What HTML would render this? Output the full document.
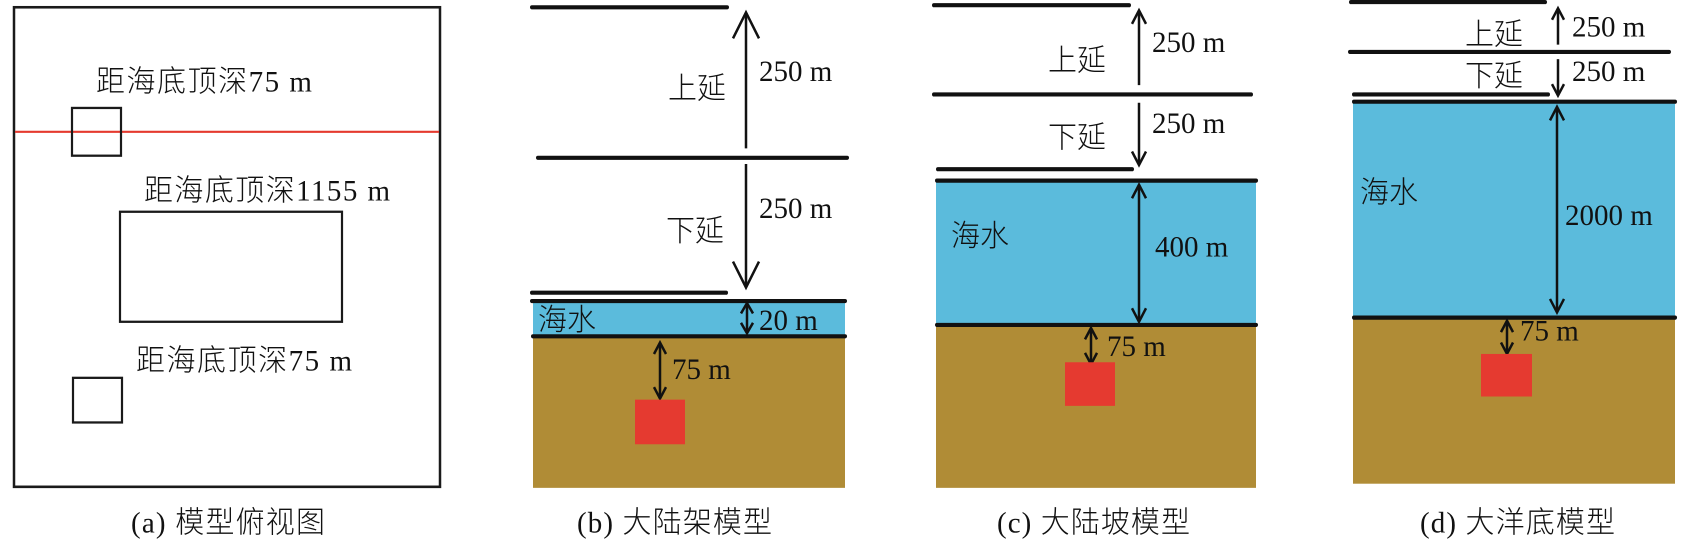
<!DOCTYPE html>
<html><head><meta charset="utf-8"><style>
html,body{margin:0;padding:0;background:#fff;}
svg{display:block;}
text{font-family:"Liberation Serif","Noto Serif CJK SC","Noto Sans CJK SC",serif;font-size:29px;fill:#111;}
.cj{font-family:"Liberation Serif","Noto Sans CJK SC",sans-serif;font-weight:300;}
</style></head><body>
<svg width="1686" height="541" viewBox="0 0 1686 541" xmlns="http://www.w3.org/2000/svg">
<g transform="scale(1,1.038)">
<!-- Panel a -->
<rect x="14" y="7" width="426" height="462" fill="none" stroke="#1a1a1a" stroke-width="2.5"/>
<line x1="15" y1="127" x2="439" y2="127" stroke="#e53a2e" stroke-width="2"/>
<rect x="72" y="104" width="49" height="46" fill="none" stroke="#1a1a1a" stroke-width="2.2"/>
<rect x="120" y="204" width="222" height="106" fill="none" stroke="#1a1a1a" stroke-width="2.2"/>
<rect x="73" y="364" width="49" height="43" fill="none" stroke="#1a1a1a" stroke-width="2.2"/>
<text x="96" y="88" class="cj" textLength="216">距海底顶深75 m</text>
<text x="144" y="193" class="cj" textLength="246">距海底顶深1155 m</text>
<text x="136" y="357" class="cj" textLength="216">距海底顶深75 m</text>
<text x="131" y="513" class="cj" textLength="194">(a) 模型俯视图</text>

<!-- Panel b -->
<rect x="533" y="290" width="312" height="180" fill="#b08c36"/>
<rect x="533" y="290" width="312" height="34" fill="#5bbbdc"/>
<g stroke="#111" stroke-width="4" stroke-linecap="round">
<line x1="532" y1="7" x2="727" y2="7"/>
<line x1="538" y1="152" x2="847" y2="152"/>
<line x1="532" y1="282" x2="726" y2="282"/>
<line x1="532" y1="290" x2="845" y2="290"/>
<line x1="533" y1="324" x2="845" y2="324"/>
</g>
<g stroke="#111" stroke-width="2.5" fill="none">
<line x1="746" y1="13" x2="746" y2="143"/>
<path d="M733,37 L746,12 L759,37"/>
<line x1="746" y1="158" x2="746" y2="276"/>
<path d="M733,252 L746,277 L759,252"/>
<line x1="747" y1="293" x2="747" y2="320"/>
<path d="M741,302 L747,292 L753,302 M741,311 L747,321 L753,311"/>
<line x1="660" y1="331" x2="660" y2="383"/>
<path d="M654,341 L660,330 L666,341 M654,373 L660,384 L666,373"/>
</g>
<rect x="635" y="385" width="50" height="43" fill="#e53a30"/>
<text x="668" y="95" class="cj">上延</text>
<text x="759" y="78">250 m</text>
<text x="666" y="232" class="cj">下延</text>
<text x="759" y="210">250 m</text>
<text x="538" y="318" class="cj">海水</text>
<text x="759" y="318">20 m</text>
<text x="672" y="365">75 m</text>
<text x="577" y="513" class="cj" textLength="195">(b) 大陆架模型</text>

<!-- Panel c -->
<rect x="936" y="174" width="320" height="296" fill="#b08c36"/>
<rect x="936" y="174" width="320" height="139" fill="#5bbbdc"/>
<g stroke="#111" stroke-width="4" stroke-linecap="round">
<line x1="934" y1="5" x2="1129" y2="5"/>
<line x1="934" y1="91" x2="1251" y2="91"/>
<line x1="938" y1="163" x2="1132" y2="163"/>
<line x1="937" y1="174" x2="1256" y2="174"/>
<line x1="937" y1="313" x2="1256" y2="313"/>
</g>
<g stroke="#111" stroke-width="2.5" fill="none">
<line x1="1139" y1="11" x2="1139" y2="82"/>
<path d="M1132,23 L1139,10 L1146,23"/>
<line x1="1139" y1="99" x2="1139" y2="158"/>
<path d="M1132,146 L1139,159 L1146,146"/>
<line x1="1139" y1="179" x2="1139" y2="309"/>
<path d="M1132,191 L1139,178 L1146,191 M1132,297 L1139,310 L1146,297"/>
<line x1="1091" y1="317" x2="1091" y2="350"/>
<path d="M1085,327 L1091,316 L1097,327 M1085,340 L1091,351 L1097,340"/>
</g>
<rect x="1065" y="349" width="50" height="42" fill="#e53a30"/>
<text x="1048" y="68" class="cj">上延</text>
<text x="1152" y="50">250 m</text>
<text x="1048" y="142" class="cj">下延</text>
<text x="1152" y="128">250 m</text>
<text x="951" y="237" class="cj">海水</text>
<text x="1155" y="247">400 m</text>
<text x="1107" y="343">75 m</text>
<text x="997" y="513" class="cj" textLength="193">(c) 大陆坡模型</text>

<!-- Panel d -->
<rect x="1353" y="98" width="322" height="368" fill="#b08c36"/>
<rect x="1353" y="98" width="322" height="208" fill="#5bbbdc"/>
<g stroke="#111" stroke-width="4" stroke-linecap="round">
<line x1="1351" y1="2" x2="1545" y2="2"/>
<line x1="1350" y1="50" x2="1669" y2="50"/>
<line x1="1354" y1="91" x2="1548" y2="91"/>
<line x1="1354" y1="98" x2="1675" y2="98"/>
<line x1="1354" y1="306" x2="1675" y2="306"/>
</g>
<g stroke="#111" stroke-width="2.5" fill="none">
<line x1="1558" y1="9" x2="1558" y2="43"/>
<path d="M1552,19 L1558,8 L1564,19"/>
<line x1="1558" y1="57" x2="1558" y2="92"/>
<path d="M1552,81 L1558,92 L1564,81"/>
<line x1="1557" y1="104" x2="1557" y2="300"/>
<path d="M1550,116 L1557,103 L1564,116 M1550,288 L1557,301 L1564,288"/>
<line x1="1507" y1="310" x2="1507" y2="340"/>
<path d="M1501,320 L1507,309 L1513,320 M1501,330 L1507,341 L1513,330"/>
</g>
<rect x="1481" y="341" width="51" height="41" fill="#e53a30"/>
<text x="1465" y="43" class="cj">上延</text>
<text x="1572" y="35">250 m</text>
<text x="1465" y="83" class="cj">下延</text>
<text x="1572" y="78">250 m</text>
<text x="1360" y="195" class="cj">海水</text>
<text x="1565" y="217">2000 m</text>
<text x="1520" y="328">75 m</text>
<text x="1420" y="513" class="cj" textLength="195">(d) 大洋底模型</text>
</g>
</svg>
</body></html>
